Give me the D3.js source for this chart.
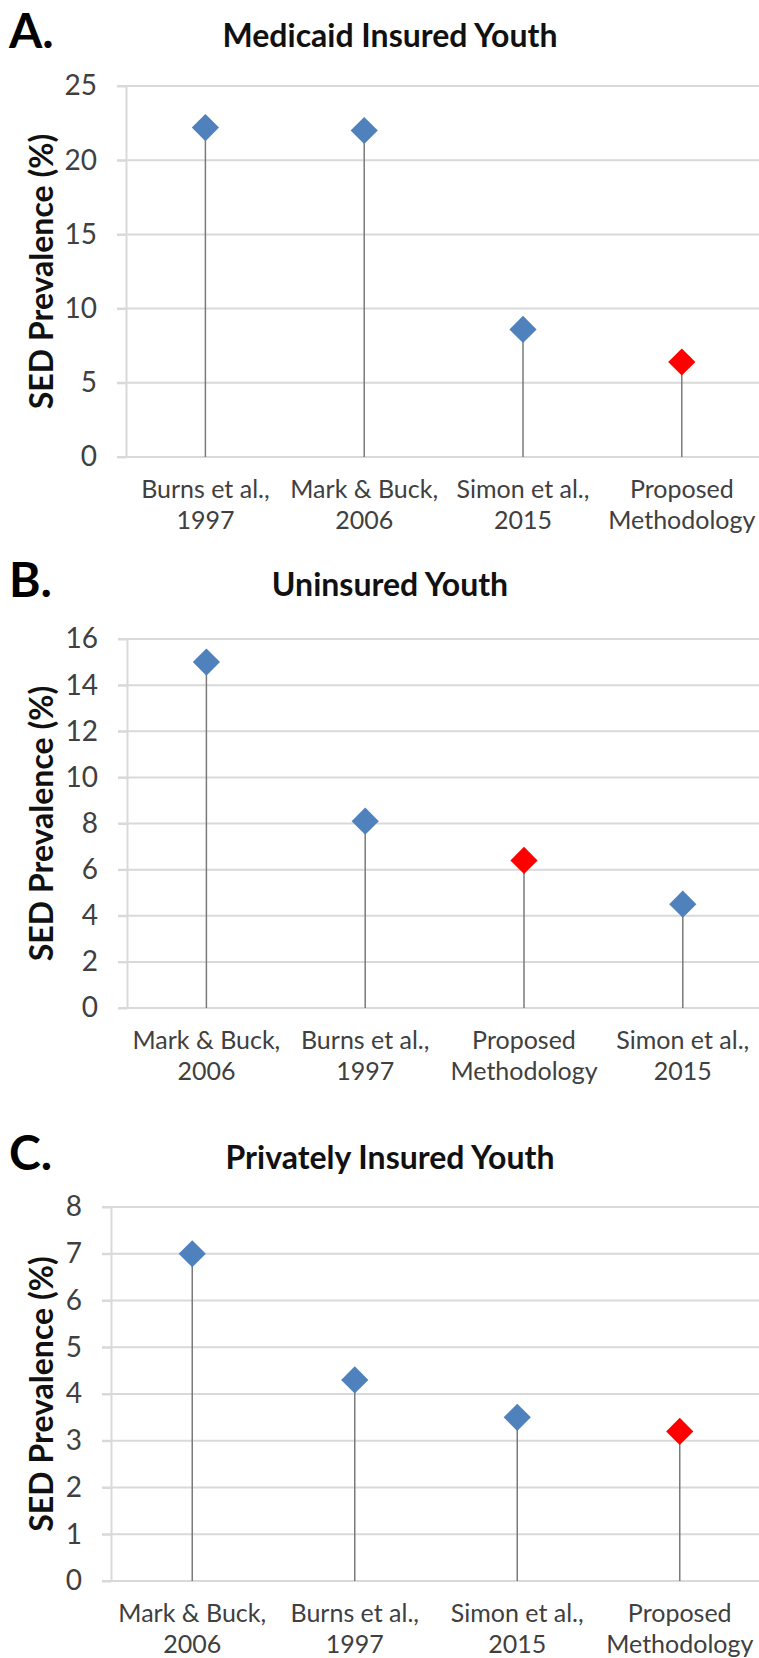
<!DOCTYPE html>
<html>
<head>
<meta charset="utf-8">
<script src="https://cdn.jsdelivr.net/npm/d3@7"></script>
<style>
  body { margin: 0; background: #fff; }
  svg { display: block; font-family: Lato, "Open Sans", sans-serif; }
</style>
</head>
<body>
<div id="container"></div>
<script>
// data
const medicaidStudies = [["Burns et al.,", "1997"], ["Mark & Buck,", "2006"], ["Simon et al.,", "2015"], ["Proposed", "Methodology"]];
const medicaidValues = [22.2, 22.0, 8.6, 6.4];
const medicaidTicks = [0, 5, 10, 15, 20, 25];

const uninsuredStudies = [["Mark & Buck,", "2006"], ["Burns et al.,", "1997"], ["Proposed", "Methodology"], ["Simon et al.,", "2015"]];
const uninsuredValues = [15.0, 8.1, 6.4, 4.5];
const uninsuredTicks = [0, 2, 4, 6, 8, 10, 12, 14, 16];

const privateStudies = [["Mark & Buck,", "2006"], ["Burns et al.,", "1997"], ["Simon et al.,", "2015"], ["Proposed", "Methodology"]];
const privateValues = [7.0, 4.3, 3.5, 3.2];
const privateTicks = [0, 1, 2, 3, 4, 5, 6, 7, 8];

const width = 759;
const height = 1658;

const blue = "#4f81bd";
const red = "#ff0000";
const gridColor = "#d9d9d9";

const svg = d3.create("svg")
    .attr("width", width)
    .attr("height", height);

// one panel per insurance group
function panel(opts) {
  const { letter, title, studies, values, ticks, axisX, bandW, y0, yTop, headBase } = opts;

  const names = studies.map(d => d.join(" "));

  const x = d3.scaleBand()
      .domain(names)
      .range([axisX, axisX + bandW * names.length])
      .padding(0);

  const y = d3.scaleLinear()
      .domain([0, d3.max(ticks)])
      .range([y0, yTop]);

  const g = svg.append("g");

  // letter + title
  g.append("text")
      .attr("x", 9)
      .attr("y", headBase + 1)
      .attr("font-size", 48)
      .attr("font-weight", "bold")
      .attr("fill", "#000")
      .text(letter);

  g.append("text")
      .attr("x", 390)
      .attr("y", headBase)
      .attr("text-anchor", "middle")
      .attr("font-size", 32)
      .attr("font-weight", "bold")
      .attr("fill", "#111")
      .text(title);

  // gridlines
  g.append("g")
    .selectAll("line")
    .data(ticks)
    .join("line")
      .attr("x1", axisX - 9)
      .attr("x2", width)
      .attr("y1", d => y(d))
      .attr("y2", d => y(d))
      .attr("stroke", gridColor)
      .attr("stroke-width", 2);

  // y axis
  const yAxis = g.append("g")
      .attr("transform", `translate(${axisX},0)`)
      .call(d3.axisLeft(y).tickValues(ticks).tickSizeInner(9).tickSizeOuter(0).tickPadding(20));
  yAxis.select(".domain").attr("stroke", gridColor).attr("stroke-width", 2);
  yAxis.selectAll(".tick line").attr("stroke", gridColor).attr("stroke-width", 2);
  yAxis.selectAll(".tick text")
      .attr("font-size", 28)
      .attr("font-family", "Lato, sans-serif")
      .attr("fill", "#404040");

  // y title
  g.append("text")
      .attr("transform", `translate(53,${(y(0) + y(d3.max(ticks))) / 2}) rotate(-90)`)
      .attr("text-anchor", "middle")
      .attr("font-size", 32)
      .attr("font-weight", "bold")
      .attr("fill", "#111")
      .text("SED Prevalence (%)");

  const rows = names.map((n, i) => ({ name: n, lines: studies[i], value: values[i] }));
  const cx = d => x(d.name) + x.bandwidth() / 2;
  const colour = d => d.name === "Proposed Methodology" ? red : blue;

  // drop lines
  g.append("g")
    .selectAll("line")
    .data(rows)
    .join("line")
      .attr("x1", cx)
      .attr("x2", cx)
      .attr("y1", y(0))
      .attr("y2", d => y(d.value))
      .attr("stroke", "#7a7a7a")
      .attr("stroke-width", 1.5);

  // markers
  g.append("g")
    .selectAll("path")
    .data(rows)
    .join("path")
      .attr("d", d3.symbol(d3.symbolSquare, 370))
      .attr("transform", d => `translate(${cx(d)},${y(d.value)}) rotate(45)`)
      .attr("fill", colour);

  // category labels, two lines each
  const lab = g.append("g")
    .selectAll("text")
    .data(rows)
    .join("text")
      .attr("text-anchor", "middle")
      .attr("font-size", 25)
      .attr("fill", "#404040");
  lab.append("tspan")
      .attr("x", cx)
      .attr("y", y(0) + 41)
      .text(d => d.lines[0]);
  lab.append("tspan")
      .attr("x", cx)
      .attr("y", y(0) + 72)
      .text(d => d.lines[1]);
}

panel({ letter: "A.", title: "Medicaid Insured Youth", studies: medicaidStudies, values: medicaidValues,
        ticks: medicaidTicks, axisX: 126, bandW: 158.8, y0: 457, yTop: 86, headBase: 47 });

panel({ letter: "B.", title: "Uninsured Youth", studies: uninsuredStudies, values: uninsuredValues,
        ticks: uninsuredTicks, axisX: 127, bandW: 158.8, y0: 1008, yTop: 639, headBase: 596 });

panel({ letter: "C.", title: "Privately Insured Youth", studies: privateStudies, values: privateValues,
        ticks: privateTicks, axisX: 111, bandW: 162.5, y0: 1581, yTop: 1207, headBase: 1169 });

container.append(svg.node());
</script>
</body>
</html>
